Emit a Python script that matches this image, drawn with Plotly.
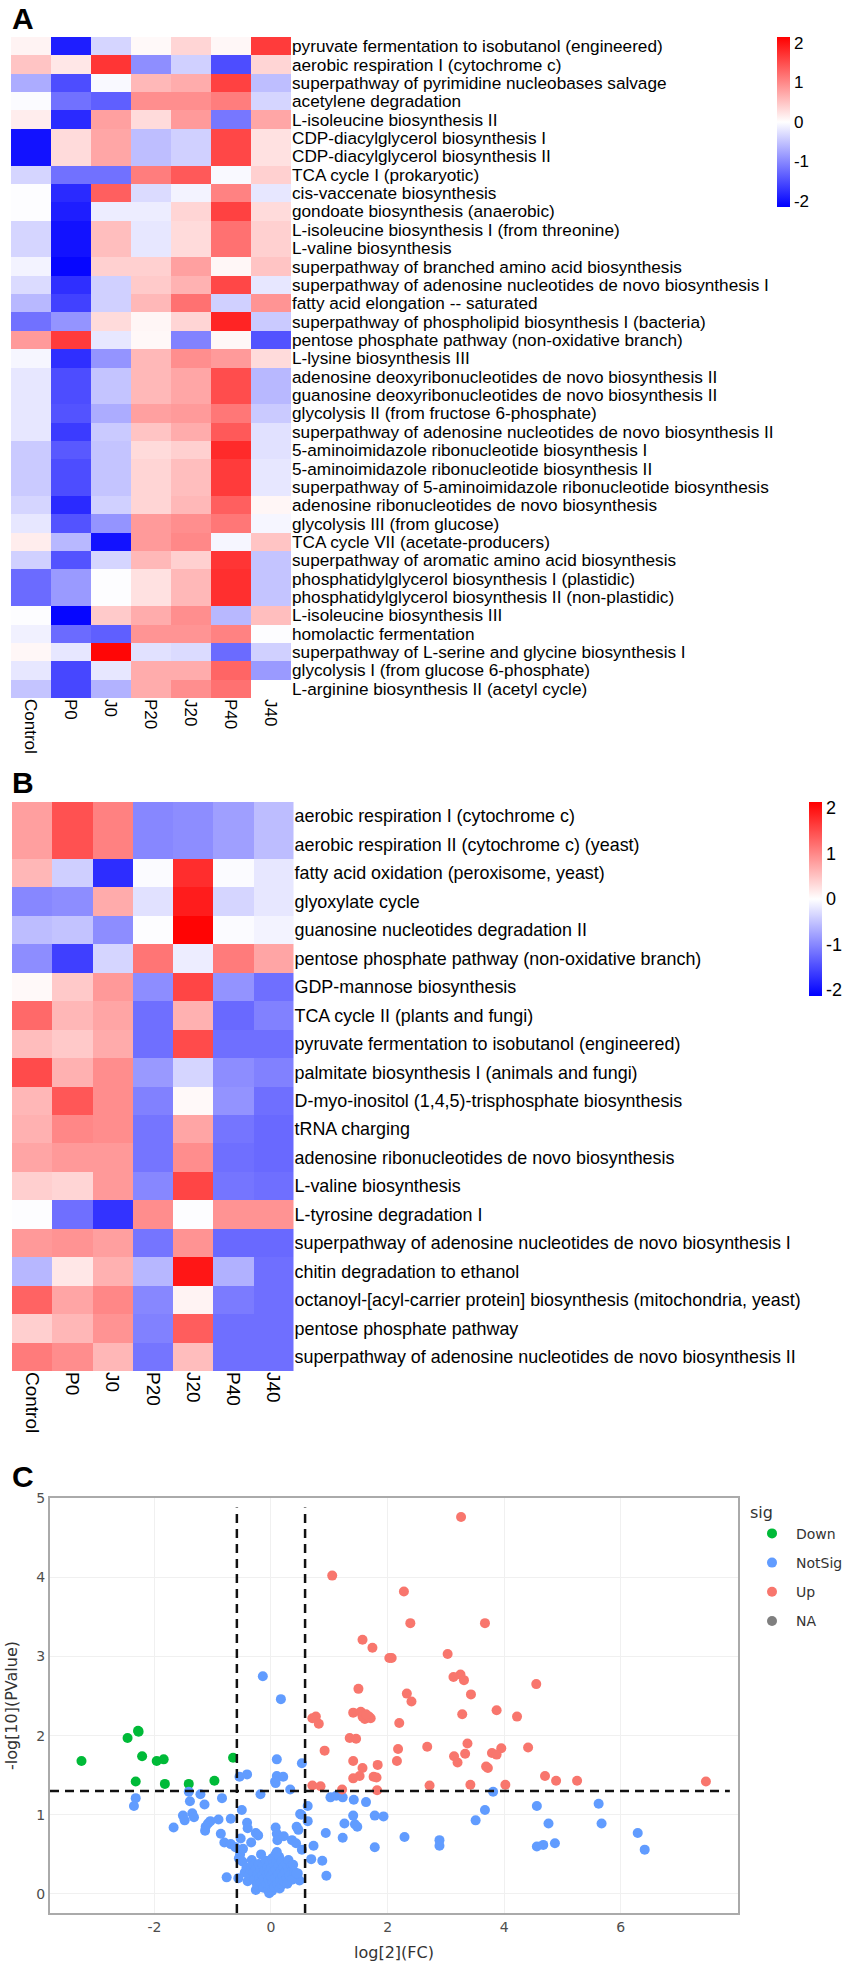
import plotly.graph_objects as go

columns = ["Control", "P0", "J0", "P20", "J20", "P40", "J40"]

labels_a = [
    "pyruvate fermentation to isobutanol (engineered)", "aerobic respiration I (cytochrome c)",
    "superpathway of pyrimidine nucleobases salvage", "acetylene degradation",
    "L-isoleucine biosynthesis II", "CDP-diacylglycerol biosynthesis I",
    "CDP-diacylglycerol biosynthesis II", "TCA cycle I (prokaryotic)",
    "cis-vaccenate biosynthesis", "gondoate biosynthesis (anaerobic)",
    "L-isoleucine biosynthesis I (from threonine)", "L-valine biosynthesis",
    "superpathway of branched amino acid biosynthesis",
    "superpathway of adenosine nucleotides de novo biosynthesis I",
    "fatty acid elongation -- saturated", "superpathway of phospholipid biosynthesis I (bacteria)",
    "pentose phosphate pathway (non-oxidative branch)", "L-lysine biosynthesis III",
    "adenosine deoxyribonucleotides de novo biosynthesis II",
    "guanosine deoxyribonucleotides de novo biosynthesis II",
    "glycolysis II (from fructose 6-phosphate)",
    "superpathway of adenosine nucleotides de novo biosynthesis II",
    "5-aminoimidazole ribonucleotide biosynthesis I", "5-aminoimidazole ribonucleotide biosynthesis II",
    "superpathway of 5-aminoimidazole ribonucleotide biosynthesis",
    "adenosine ribonucleotides de novo biosynthesis", "glycolysis III (from glucose)",
    "TCA cycle VII (acetate-producers)", "superpathway of aromatic amino acid biosynthesis",
    "phosphatidylglycerol biosynthesis I (plastidic)", "phosphatidylglycerol biosynthesis II (non-plastidic)",
    "L-isoleucine biosynthesis III", "homolactic fermentation",
    "superpathway of L-serine and glycine biosynthesis I", "glycolysis I (from glucose 6-phosphate)",
    "L-arginine biosynthesis II (acetyl cycle)",
]
values_a = [
    [0.1, -1.9, -0.35, 0.05, 0.35, 0.07, 1.65],
    [0.5, 0.2, 1.7, -0.95, -0.4, -1.5, 0.35],
    [-0.7, -1.5, -0.05, 0.6, 0.7, 1.6, -0.55],
    [-0.03, -1.2, -1.35, 0.95, 0.95, 1.1, -0.35],
    [0.15, -1.8, 0.8, 0.3, 0.85, -1.15, 0.75],
    [-2.0, 0.3, 0.75, -0.55, -0.4, 1.55, 0.25],
    [-2.0, 0.3, 0.75, -0.55, -0.4, 1.55, 0.25],
    [-0.35, -1.2, -1.2, 1.1, 1.4, -0.05, 0.4],
    [-0.02, -1.8, 1.35, -0.3, -0.1, 1.05, -0.2],
    [-0.02, -1.9, -0.15, -0.15, 0.35, 1.6, 0.3],
    [-0.35, -2.0, 0.55, -0.2, 0.3, 1.2, 0.4],
    [-0.35, -2.0, 0.55, -0.2, 0.3, 1.2, 0.4],
    [-0.1, -2.1, 0.4, 0.4, 0.8, 0.07, 0.5],
    [-0.3, -1.75, -0.4, 0.45, 0.65, 1.55, -0.2],
    [-0.6, -1.6, -0.4, 0.6, 1.2, -0.4, 0.9],
    [-1.2, -0.9, 0.3, 0.08, 0.35, 1.85, -0.45],
    [0.85, 1.65, -0.2, 0.06, -1.05, 0.07, -1.45],
    [-0.08, -1.75, -0.9, 0.6, 0.95, 0.85, 0.3],
    [-0.2, -1.5, -0.5, 0.6, 0.75, 1.5, -0.6],
    [-0.2, -1.5, -0.5, 0.6, 0.75, 1.5, -0.6],
    [-0.2, -1.45, -0.7, 0.8, 0.85, 1.15, -0.45],
    [-0.2, -1.65, -0.45, 0.5, 0.7, 1.4, -0.25],
    [-0.45, -1.4, -0.5, 0.3, 0.4, 1.8, -0.25],
    [-0.45, -1.5, -0.5, 0.35, 0.55, 1.65, -0.2],
    [-0.45, -1.5, -0.5, 0.35, 0.55, 1.65, -0.2],
    [-0.35, -1.8, -0.4, 0.35, 0.6, 1.35, 0.08],
    [-0.2, -1.45, -0.9, 0.85, 0.95, 1.15, -0.08],
    [0.15, -0.6, -2.0, 0.85, 1.0, -0.08, 0.5],
    [-0.4, -1.45, -0.35, 0.6, 0.4, 1.7, -0.5],
    [-1.25, -0.85, -0.02, 0.25, 0.6, 1.75, -0.5],
    [-1.25, -0.85, -0.02, 0.25, 0.6, 1.75, -0.5],
    [-0.02, -2.1, 0.45, 0.7, 0.95, -0.6, 0.55],
    [-0.12, -1.25, -1.35, 0.9, 0.9, 1.05, -0.02],
    [0.07, -0.2, 2.1, -0.25, -0.3, -1.25, -0.4],
    [-0.2, -1.55, -0.2, 0.7, 0.7, 1.3, -0.85],
    [-0.5, -1.55, -0.65, 0.7, 0.95, 1.2, 0.0],
]

labels_b = [
    "aerobic respiration I (cytochrome c)", "aerobic respiration II (cytochrome c) (yeast)",
    "fatty acid oxidation (peroxisome, yeast)", "glyoxylate cycle",
    "guanosine nucleotides degradation II", "pentose phosphate pathway (non-oxidative branch)",
    "GDP-mannose biosynthesis", "TCA cycle II (plants and fungi)",
    "pyruvate fermentation to isobutanol (engineered)", "palmitate biosynthesis I (animals and fungi)",
    "D-myo-inositol (1,4,5)-trisphosphate biosynthesis", "tRNA charging",
    "adenosine ribonucleotides de novo biosynthesis", "L-valine biosynthesis",
    "L-tyrosine degradation I", "superpathway of adenosine nucleotides de novo biosynthesis I",
    "chitin degradation to ethanol", "octanoyl-[acyl-carrier protein] biosynthesis (mitochondria, yeast)",
    "pentose phosphate pathway", "superpathway of adenosine nucleotides de novo biosynthesis II",
]
values_b = [
    [0.8, 1.45, 1.05, -1.0, -0.95, -0.8, -0.55],
    [0.8, 1.45, 1.05, -1.0, -0.95, -0.8, -0.55],
    [0.6, -0.4, -1.75, -0.03, 1.75, -0.03, -0.2],
    [-1.0, -0.95, 0.7, -0.25, 1.9, -0.35, -0.2],
    [-0.55, -0.5, -0.95, -0.02, 2.1, -0.03, -0.1],
    [-0.95, -1.6, -0.35, 1.15, -0.15, 1.1, 0.75],
    [0.05, 0.45, 0.85, -0.95, 1.55, -0.9, -1.2],
    [1.25, 0.6, 0.75, -1.2, 0.65, -1.25, -1.05],
    [0.55, 0.45, 0.7, -1.2, 1.5, -1.2, -1.2],
    [1.5, 0.65, 0.95, -0.85, -0.35, -0.95, -1.05],
    [0.6, 1.4, 0.95, -1.05, 0.05, -0.9, -1.2],
    [0.65, 1.0, 0.95, -1.15, 0.75, -1.15, -1.25],
    [0.75, 0.85, 0.85, -1.15, 0.95, -1.2, -1.25],
    [0.4, 0.35, 0.85, -1.0, 1.55, -1.15, -1.2],
    [-0.02, -1.2, -1.7, 0.95, -0.02, 0.9, 0.9],
    [0.85, 0.9, 0.8, -1.15, 0.9, -1.25, -1.25],
    [-0.6, 0.2, 0.65, -0.6, 1.95, -0.65, -1.2],
    [1.3, 0.75, 1.0, -1.0, 0.1, -1.1, -1.2],
    [0.4, 0.6, 0.9, -1.05, 1.35, -1.2, -1.2],
    [1.1, 0.95, 0.6, -1.15, 0.55, -1.2, -1.2],
]

colorbar_vals = [-2, -1, 0, 1, 2]
colorbar_text = ["-2", "-1", "0", "1", "2"]

down_x = [-2.28, -2.27, -2.46, -3.25, -2.21, -1.96, -1.84, -0.65, -2.32, -1.82, -1.41, -0.97]
down_y = [2.06, 2.05, 1.97, 1.68, 1.74, 1.68, 1.70, 1.72, 1.42, 1.39, 1.39, 1.43]

up_x = [3.26, 1.05, 2.28, 2.39, 3.67, 1.57, 1.74, 2.03, 2.07, 3.03, 3.25, 3.13, 3.31, 4.55, 1.50, 2.33,
        3.43, 2.41, 3.87, 1.41, 1.54, 1.57, 1.61, 1.68, 1.71, 1.63, 0.77, 0.71, 0.82, 2.20, 3.28, 4.22,
        1.35, 1.46, 3.37, 4.41, 2.68, 2.18, 0.92, 3.95, 3.79, 3.87, 3.33, 3.14, 3.20, 1.41, 2.16, 1.83,
        1.57, 3.69, 3.72, 4.70, 4.89, 5.25, 7.46, 1.52, 1.41, 1.76, 1.81, 0.71, 0.85, 2.72, 3.42, 4.02,
        1.22, 1.82]
up_y = [4.76, 4.02, 3.82, 3.42, 3.42, 3.21, 3.11, 2.98, 2.98, 3.03, 2.77, 2.74, 2.70, 2.65, 2.59, 2.53,
        2.52, 2.43, 2.32, 2.29, 2.30, 2.24, 2.21, 2.24, 2.22, 2.27, 2.24, 2.22, 2.15, 2.16, 2.27, 2.24,
        1.97, 1.96, 1.90, 1.85, 1.86, 1.83, 1.81, 1.84, 1.78, 1.76, 1.77, 1.74, 1.66, 1.68, 1.68, 1.63,
        1.59, 1.61, 1.59, 1.49, 1.43, 1.43, 1.42, 1.49, 1.46, 1.48, 1.47, 1.37, 1.36, 1.37, 1.38, 1.38,
        1.32, 1.31]

notsig_x = [-0.14, 0.17, 0.10, 0.53, -0.54, -0.41, 0.10, 0.21, 0.08, 0.07, 0.33, -0.18, -1.41, -1.21, -0.84,
            -2.32, -2.35, -1.39, -1.14, -0.50, 0.63, 1.02, 1.12, 1.23, 1.42, 1.63, 3.81, 3.67, 4.56, 5.62,
            3.51, 4.76, 5.67, 6.29, 6.41, 4.87, 4.67, 4.56, 2.89, 2.89, 2.29, 1.78, 1.78, 1.93, 1.41, 1.26,
            1.44, 1.48, 0.94, 1.23, 0.73, 0.63, 0.50, 0.52, -1.51, -1.48, -1.35, -1.32, -1.67, -1.04, -1.08,
            -1.12, -1.13, -0.90, -0.69, -0.41, -0.40, -0.86, -0.26, -0.22, -0.80, -0.69, -0.61, -0.52, -0.34,
            -0.48, 0.08, 0.10, 0.11, 0.22, 0.36, 0.43, 0.44, 0.47, 0.53, 0.69, 0.88, 0.95, 0.49, 0.46, -0.76,
            -0.56, -0.53, -0.49, -0.55, -0.33, -0.26, -0.40, -0.17,
            -0.45, -0.42, -0.38, -0.35, -0.33, -0.30, -0.30, -0.28, -0.26, -0.24, -0.23, -0.21, -0.20, -0.18,
            -0.17, -0.15, -0.14, -0.13, -0.12, -0.11, -0.09, -0.08, -0.07, -0.06, -0.05, -0.04, -0.03, -0.03,
            -0.02, -0.01, 0.00, 0.01, 0.02, 0.02, 0.03, 0.04, 0.05, 0.06, 0.07, 0.08, 0.08, 0.09, 0.10, 0.11,
            0.12, 0.13, 0.14, 0.15, 0.16, 0.17, 0.18, 0.19, 0.20, 0.21, 0.22, 0.24, 0.26, 0.27, 0.28, 0.30,
            0.30, 0.32, 0.35, 0.36, 0.38, 0.40, 0.44]
notsig_y = [2.75, 2.46, 1.70, 1.65, 1.48, 1.51, 1.49, 1.48, 1.40, 1.42, 1.32, 1.26, 1.29, 1.26, 1.21,
            1.21, 1.11, 1.17, 1.13, 1.06, 1.11, 1.22, 1.24, 1.22, 1.19, 1.16, 1.29, 1.06, 1.11, 1.14,
            0.93, 0.89, 0.89, 0.77, 0.56, 0.64, 0.62, 0.60, 0.68, 0.61, 0.72, 0.59, 0.99, 0.98, 0.99, 0.89,
            0.88, 0.85, 0.77, 0.71, 0.61, 0.92, 1.01, 1.00, 0.99, 0.93, 1.02, 0.97, 0.84, 0.92, 0.89,
            0.85, 0.80, 0.94, 0.95, 0.90, 0.83, 0.76, 0.77, 0.74, 0.65, 0.63, 0.59, 0.70, 0.65,
            0.57, 0.84, 0.76, 0.68, 0.73, 0.68, 0.64, 0.85, 0.81, 0.56, 0.44, 0.42, 0.23, 0.17, 0.26, 0.21,
            0.20, 0.50, 0.41, 0.45, 0.43, 0.05, 0.16, 0.50,
            0.27, 0.33, 0.24, 0.30, 0.22, 0.36, 0.27, 0.18, 0.32, 0.12, 0.25, 0.38, 0.20, 0.30,
            0.14, 0.24, 0.36, 0.08, 0.19, 0.30, 0.42, 0.12, 0.24, 0.34, 0.05, 0.18, 0.28, 0.01,
            0.40, 0.10, 0.22, 0.33, 0.45, 0.04, 0.15, 0.27, 0.38, 0.09, 0.20, 0.50, 0.31, 0.42, 0.53, 0.13,
            0.24, 0.36, 0.47, 0.07, 0.18, 0.30, 0.41, 0.12, 0.23, 0.34, 0.16, 0.27, 0.38, 0.20, 0.13, 0.30,
            0.43, 0.23, 0.35, 0.18, 0.37, 0.28, 0.26]

W, H = 851, 1962
def fx(p): return p / W
def fy(p): return 1 - p / H

scale = [[0, "#0000ff"], [0.5, "#ffffff"], [1, "#ff0000"]]
LIB = "Liberation Sans"
DJ = "DejaVu Sans"

fig = go.Figure()

def cbar(x, top, bottom, thick, size):
    return dict(x=fx(x), xanchor="left", y=fy(top), yanchor="top", lenmode="pixels", len=bottom - top,
                thicknessmode="pixels", thickness=thick, outlinewidth=0, ticklen=0, xpad=0, ypad=0,
                tickmode="array", tickvals=colorbar_vals, ticktext=colorbar_text,
                tickfont=dict(family=LIB, size=size, color="#000"))

fig.add_trace(go.Heatmap(z=values_a, x=columns, y=labels_a, colorscale=scale, zmin=-2.15, zmax=2.15,
                         xaxis="x", yaxis="y", colorbar=cbar(777, 37, 207, 13, 17)))
fig.add_trace(go.Heatmap(z=values_b, x=columns, y=labels_b, colorscale=scale, zmin=-2.13, zmax=2.13,
                         xaxis="x2", yaxis="y2", colorbar=cbar(809, 802, 996, 13, 18)))

marker_groups = [("Down", down_x, down_y, "#00ba38"), ("NotSig", notsig_x, notsig_y, "#619cff"),
                 ("Up", up_x, up_y, "#f8766d"), ("NA", [None], [None], "#7f7f7f")]
for name, xs, ys, col in marker_groups:
    fig.add_trace(go.Scatter(x=xs, y=ys, mode="markers", name=name, legendgroup=name, xaxis="x3", yaxis="y3",
                             marker=dict(color=col, size=10)))

def heat_x(size):
    return dict(showgrid=False, zeroline=False, ticks="", ticklen=0, tickangle=90, showline=False, automargin=False,
                tickfont=dict(family=LIB, size=size, color="#000"))
def heat_y(size):
    return dict(showgrid=False, zeroline=False, ticks="", ticklen=0, side="right", autorange="reversed",
                showline=False, automargin=False, tickfont=dict(family=LIB, size=size, color="#000"), dtick=1)

axis3 = dict(showgrid=True, gridcolor="#f0f0f0", gridwidth=1, zeroline=False, showline=True, mirror=True,
             automargin=False, linecolor="#aaaaaa", linewidth=2, ticks="",
             tickfont=dict(family=DJ, size=14, color="#4d4d4d"))

dash_line = dict(color="#111", width=2.5, dash="9px,6px")

fig.update_layout(
    width=W, height=H, margin=dict(l=0, r=0, t=0, b=0), paper_bgcolor="#fff", plot_bgcolor="#fff",
    xaxis=dict(domain=[fx(11), fx(291)], anchor="y", **heat_x(17)),
    yaxis=dict(domain=[fy(698), fy(37)], anchor="x", **heat_y(17.2)),
    xaxis2=dict(domain=[fx(12), fx(293.5)], anchor="y2", **heat_x(19)),
    yaxis2=dict(domain=[fy(1371), fy(802)], anchor="x2", **heat_y(17.9)),
    xaxis3=dict(domain=[fx(50), fx(738)], anchor="y3", range=[-3.79, 8.01], tickvals=[-2, 0, 2, 4, 6],
                ticktext=["-2", "0", "2", "4", "6"],
                title=dict(text="log[2](FC)", font=dict(family=DJ, size=16, color="#333")), **axis3),
    yaxis3=dict(domain=[fy(1913), fy(1498)], anchor="x3", range=[-0.24, 5.0], tickvals=[0, 1, 2, 3, 4, 5],
                title=dict(text="-log[10](PValue)", font=dict(family=DJ, size=16, color="#333")), **axis3),
    legend=dict(x=fx(748), xanchor="left", y=fy(1497), yanchor="top", tracegroupgap=8, itemwidth=38,
                title=dict(text="sig", font=dict(family=DJ, size=16, color="#333")),
                font=dict(family=DJ, size=14, color="#333"), bgcolor="rgba(0,0,0,0)"),
    shapes=[
        dict(type="line", xref="x3", yref="y3", x0=-0.585, x1=-0.585, y0=-0.24, y1=4.88, line=dash_line),
        dict(type="line", xref="x3", yref="y3", x0=0.585, x1=0.585, y0=-0.24, y1=4.88, line=dash_line),
        dict(type="line", xref="x3", yref="y3", x0=-3.79, x1=7.87, y0=1.301, y1=1.301, line=dash_line),
    ],
    annotations=[
        dict(text="<b>%s</b>" % t, xref="paper", yref="paper", x=fx(x), y=fy(y), xanchor="left", yanchor="middle",
             showarrow=False, font=dict(family=LIB, size=30, color="#000"))
        for t, x, y in [("A", 10, 19), ("B", 10, 783), ("C", 10, 1476)]
    ],
)

fig.write_html("out.html", config={"displayModeBar": False},
               post_script="document.body.style.margin='0';document.documentElement.style.overflow='hidden';")
